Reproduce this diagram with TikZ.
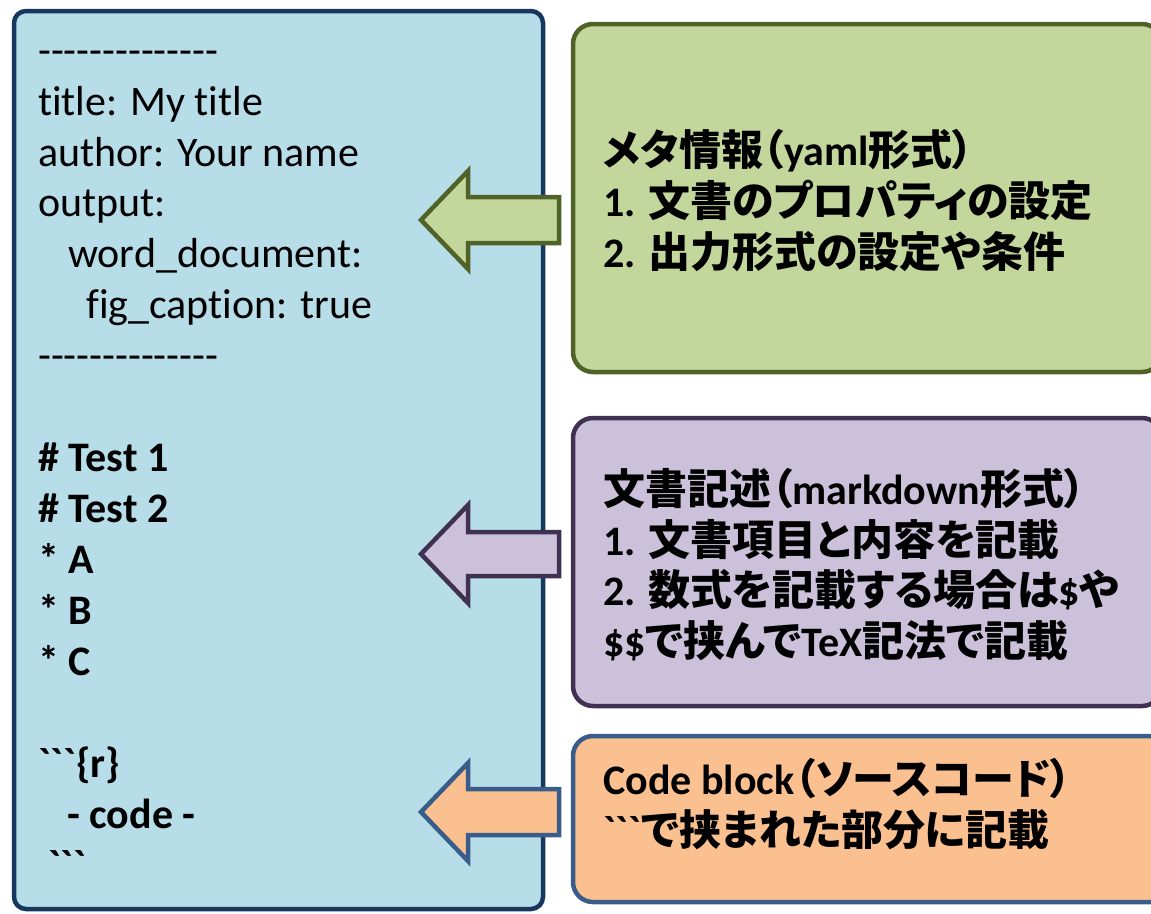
\documentclass[tikz,border=0pt]{standalone}
\usepackage{fontspec}
\newfontfamily\lat[Ligatures={NoCommon}]{Carlito}
\newfontfamily\cjkf[RawFeature=+palt]{Noto Sans CJK JP}
\newcommand\jp[1]{{\cjkf #1}}
\definecolor{srcfill}{HTML}{B7DDE8}
\definecolor{srcline}{HTML}{17375E}
\definecolor{gfill}{HTML}{C3D69B}
\definecolor{gline}{HTML}{4F6228}
\definecolor{pfill}{HTML}{CCC1DA}
\definecolor{pline}{HTML}{403152}
\definecolor{ofill}{HTML}{FAC090}
\definecolor{oline}{HTML}{385D8A}
\tikzset{
  txt/.style={anchor=base west, inner sep=0pt, font=\fontsize{42}{50}\selectfont\lat},
  btxt/.style={anchor=base west, inner sep=0pt, font=\fontsize{42}{50}\selectfont\lat\bfseries},
  panel/.style={rectangle, line width=4.5pt, rounded corners=20pt, inner sep=0pt},
  blockarrow/.style={line width=4.5pt, line join=miter},
}
\begin{document}
\begin{tikzpicture}[x=1pt,y=-1pt]
\useasboundingbox (0,0) rectangle (1151,913);
% source panel
\node[panel, rounded corners=12pt, fill=srcfill, draw=srcline, minimum width=529pt, minimum height=898pt] (src) at (278.5,460) {};
% explanation panels
\node[panel, fill=gfill, draw=gline, minimum width=589pt, minimum height=348pt] (meta) at (867.5,198) {};
\node[panel, fill=pfill, draw=pline, minimum width=589pt, minimum height=288pt] (md) at (867.5,562) {};
\node[panel, fill=ofill, draw=oline, minimum width=617pt, minimum height=166pt] (code) at (881.5,819) {};
% source text
\node[txt] (s0) at (38,64) {--------------};
\node[txt] (s1) at (38,115) {title: My title};
\node[txt] (s2) at (38,166) {author: Your name};
\node[txt] (s3) at (38,216) {output:};
\node[txt] (s4) at (68,267) {word\_document:};
\node[txt] (s5) at (86,318) {fig\_caption: true};
\node[txt] (s6) at (38,369) {--------------};
\node[btxt] (s8) at (38,471) {\# Test 1};
\node[btxt] (s9) at (38,522) {\# Test 2};
\node[btxt] (s10) at (38,573) {* A};
\node[btxt] (s11) at (38,624) {* B};
\node[btxt] (s12) at (38,675) {* C};
\node[btxt] (s14) at (38,777) {```\{r\}};
\node[btxt] (s15) at (67,828) {- code -};
\node[btxt] (s16) at (48,879) {```};
% arrows
\coordinate (ga) at (421,220);
\coordinate (pa) at (421,554);
\coordinate (oa) at (421,812);
\draw[blockarrow, fill=gfill, draw=gline] (ga) -- ++(47,-49) -- ++(0,26) -- ++(91,0) -- ++(0,46) -- ++(-91,0) -- ++(0,26) -- cycle;
\draw[blockarrow, fill=pfill, draw=pline] (pa) -- ++(47,-49) -- ++(0,27) -- ++(91,0) -- ++(0,44) -- ++(-91,0) -- ++(0,27) -- cycle;
\draw[blockarrow, fill=ofill, draw=oline] (oa) -- ++(47,-49) -- ++(0,26) -- ++(91,0) -- ++(0,46) -- ++(-91,0) -- ++(0,26) -- cycle;
% meta text
\node[btxt] (m1) at (603,165) {\jp{メタ情報（}yaml\jp{形式）}};
\node[btxt] (m2) at (603,216) {1. \jp{文書のプロパティの設定}};
\node[btxt] (m3) at (603,267) {2. \jp{出力形式の設定や条件}};
% markdown text
\node[btxt] (d1) at (603,504) {\jp{文書記述（}markdown\jp{形式）}};
\node[btxt] (d2) at (603,555) {1. \jp{文書項目と内容を記載}};
\node[btxt] (d3) at (603,605) {2. \jp{数式を記載する場合は}\$\jp{や}};
\node[btxt] (d4) at (603,656) {\$\$\jp{で挟んで}TeX\jp{記法で記載}};
% code text
\node[btxt] (c1) at (603,794) {Code block\jp{（ソースコード）}};
\node[btxt] (c2) at (603,845) {```\jp{で挟まれた部分に記載}};
\end{tikzpicture}
\end{document}
